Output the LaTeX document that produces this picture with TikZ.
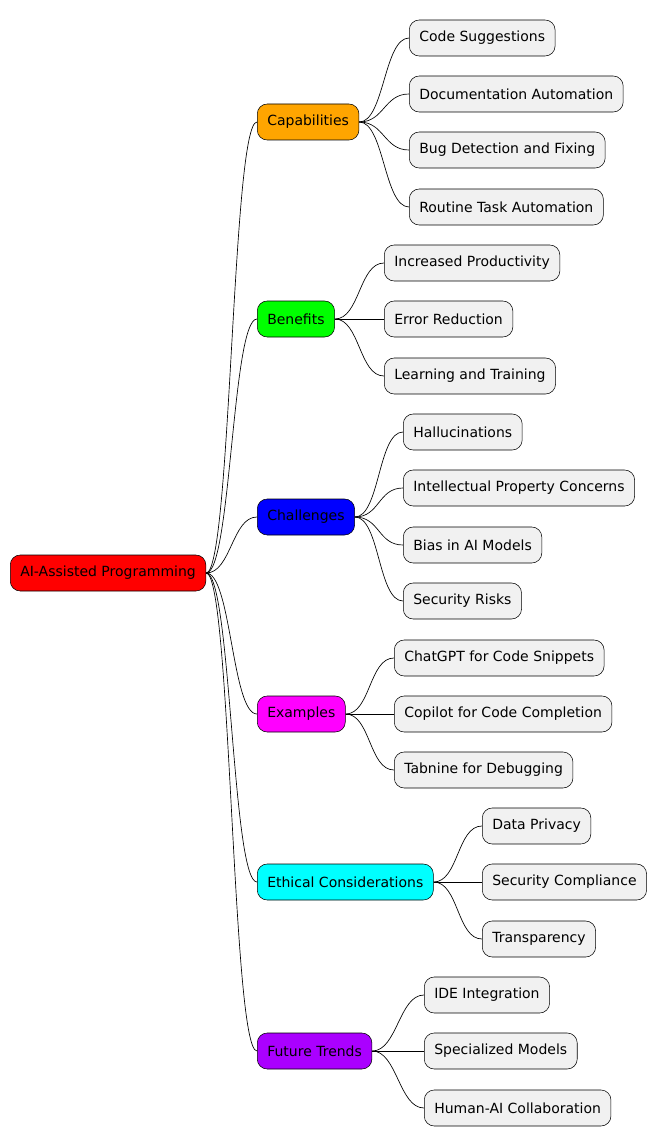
\documentclass[tikz,border=0pt]{standalone}
\usepackage{fontspec}
\setmainfont{DejaVu Sans}
\usetikzlibrary{positioning}
\definecolor{leafgray}{HTML}{F1F1F1}
\definecolor{caporange}{HTML}{FFA500}
\definecolor{exmagenta}{HTML}{FF00FF}
\definecolor{ethcyan}{HTML}{00FFFF}
\definecolor{trendpurple}{HTML}{AA00FF}
\tikzset{
  topic/.style={draw=black, rounded corners=7.5pt, minimum height=27pt, inner xsep=7.5pt, anchor=west, font=\fontsize{10.5}{12}\selectfont},
  leaf/.style={topic, fill=leafgray},
  link/.style={draw=black, line width=0.5pt}
}
\newcommand{\branch}[2]{\draw[link] (#1.east) .. controls +(25,0) and +(-25,0) .. (#2.west);}
\begin{document}
\begin{tikzpicture}[x=0.75pt,y=-0.75pt]
  \useasboundingbox (0,0) rectangle (666,1145);
  % Root
  \node[topic, fill=red] (root) at (10,573) {AI-Assisted Programming};
  % Capabilities
  \node[topic, fill=caporange] (cap) at (257,122) {Capabilities};
  \node[leaf] (cap1) at (409,38) {Code Suggestions};
  \node[leaf] (cap2) at (409,94) {Documentation Automation};
  \node[leaf] (cap3) at (409,150) {Bug Detection and Fixing};
  \node[leaf] (cap4) at (409,207) {Routine Task Automation};
  % Benefits
  \node[topic, fill=green] (ben) at (257,319) {Benefits};
  \node[leaf] (ben1) at (384,263) {Increased Productivity};
  \node[leaf] (ben2) at (384,319) {Error Reduction};
  \node[leaf] (ben3) at (384,376) {Learning and Training};
  % Challenges
  \node[topic, fill=blue] (cha) at (257,517) {Challenges};
  \node[leaf] (cha1) at (403,432) {Hallucinations};
  \node[leaf] (cha2) at (403,488) {Intellectual Property Concerns};
  \node[leaf] (cha3) at (403,545) {Bias in AI Models};
  \node[leaf] (cha4) at (403,601) {Security Risks};
  % Examples
  \node[topic, fill=exmagenta] (exa) at (257,714) {Examples};
  \node[leaf] (exa1) at (394,658) {ChatGPT for Code Snippets};
  \node[leaf] (exa2) at (394,714) {Copilot for Code Completion};
  \node[leaf] (exa3) at (394,770) {Tabnine for Debugging};
  % Ethical Considerations
  \node[topic, fill=ethcyan] (eth) at (257,882) {Ethical Considerations};
  \node[leaf] (eth1) at (482,826) {Data Privacy};
  \node[leaf] (eth2) at (482,882) {Security Compliance};
  \node[leaf] (eth3) at (482,939) {Transparency};
  % Future Trends
  \node[topic, fill=trendpurple] (fut) at (257,1051) {Future Trends};
  \node[leaf] (fut1) at (424,995) {IDE Integration};
  \node[leaf] (fut2) at (424,1051) {Specialized Models};
  \node[leaf] (fut3) at (424,1108) {Human-AI Collaboration};
  % Connectors
  \foreach \t in {cap,ben,cha,exa,eth,fut} {\branch{root}{\t}}
  \foreach \l in {cap1,cap2,cap3,cap4} {\branch{cap}{\l}}
  \foreach \l in {ben1,ben2,ben3} {\branch{ben}{\l}}
  \foreach \l in {cha1,cha2,cha3,cha4} {\branch{cha}{\l}}
  \foreach \l in {exa1,exa2,exa3} {\branch{exa}{\l}}
  \foreach \l in {eth1,eth2,eth3} {\branch{eth}{\l}}
  \foreach \l in {fut1,fut2,fut3} {\branch{fut}{\l}}
\end{tikzpicture}
\end{document}
